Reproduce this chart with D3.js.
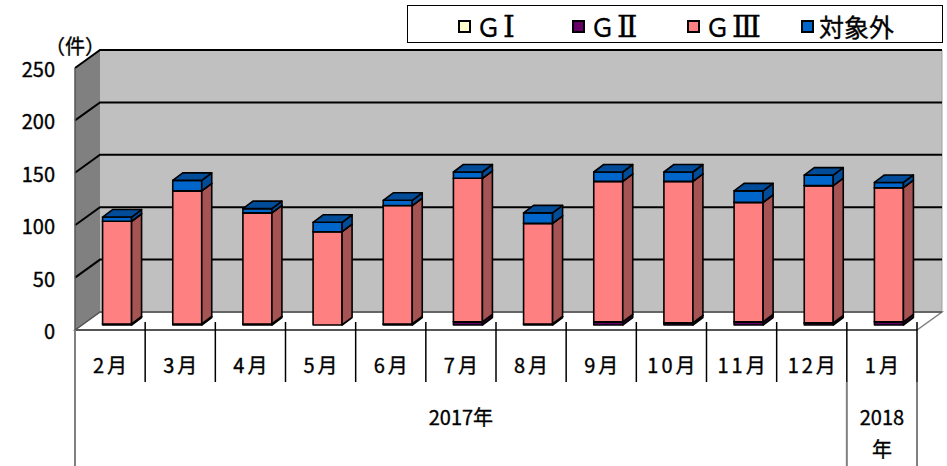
<!DOCTYPE html>
<html>
<head>
<meta charset="utf-8">
<script src="https://cdn.jsdelivr.net/npm/d3@7"></script>
<style>
  body { margin: 0; background: #fff; }
  text { font-family: 'Noto Sans CJK JP', 'Noto Sans', sans-serif; fill: #000; stroke: #000; stroke-width: 0.35px; }
</style>
</head>
<body>
<script>
// ---- Data ----
const months = ['2月', '3月', '4月', '5月', '6月', '7月', '8月', '9月', '10月', '11月', '12月', '1月'];
const yearLabels = [['2017年'], ['2018', '年']];
const yearSpans = [11, 1];
const seriesNames = ['ＧⅠ', 'ＧⅡ', 'ＧⅢ', '対象外'];
const gI = [0, 0, 0, 0, 0, 0, 0, 0, 0, 0, 0, 0];
const gII = [1, 1, 1, 0, 1, 3, 1, 3, 2, 3, 2, 3];
const gIII = [98, 127, 106, 89, 113, 137, 96, 134, 135, 114, 131, 128];
const other = [4, 10, 4, 9, 5, 6, 10, 9, 9, 11, 10, 5];
const yTicks = [0, 50, 100, 150, 200, 250];

// ---- Styles ----
const colors = {
  front: ['#ffffcc', '#660066', '#ff8080', '#0066cc'],
  side: ['#a6a685', '#420042', '#a65353', '#004c99']
};

const W = 947, H = 466;
const svg = d3.select('body').append('svg').attr('width', W).attr('height', H);

const x = d3.scaleBand().domain(months).range([75, 917]);
const y = d3.scaleLinear().domain([0, 250]).range([330, 68]);

const wall = { dx: 25, dy: -18 };
const barOff = { dx: 7, dy: -5 };
const depth = { dx: 10, dy: -7.5 };
const barW = 29;

const x0 = x.range()[0], x1 = x.range()[1];
const yTop = y(250), yBot = y(0);

// ---- Walls ----
svg.append('rect')
  .attr('x', x0 + wall.dx).attr('y', yTop + wall.dy)
  .attr('width', x1 - x0).attr('height', yBot - yTop)
  .attr('fill', '#c0c0c0');

svg.append('polygon')
  .attr('points', [[x0, yTop], [x0 + wall.dx, yTop + wall.dy], [x0 + wall.dx, yBot + wall.dy], [x0, yBot]].join(' '))
  .attr('fill', '#808080');

svg.append('polygon')
  .attr('points', [[x0, yBot], [x0 + wall.dx, yBot + wall.dy], [x1 + wall.dx, yBot + wall.dy], [x1, yBot]].join(' '))
  .attr('fill', '#fff')
  .attr('stroke', '#808080').attr('stroke-width', 1.5);

// right edge of back wall
svg.append('line')
  .attr('x1', x1 + wall.dx).attr('x2', x1 + wall.dx)
  .attr('y1', yTop + wall.dy).attr('y2', yBot + wall.dy)
  .attr('stroke', '#a0a0a0').attr('stroke-width', 1);

// ---- Grid ----
svg.append('g')
  .selectAll('path').data(yTicks.filter(d => d > 0)).join('path')
  .attr('d', d => `M${x0},${y(d)}L${x0 + wall.dx},${y(d) + wall.dy}L${x1 + wall.dx},${y(d) + wall.dy}`)
  .attr('fill', 'none').attr('stroke', '#000').attr('stroke-width', 2);

svg.append('path')
  .attr('d', `M${x0},${yBot}L${x0 + wall.dx},${yBot + wall.dy}L${x1 + wall.dx},${yBot + wall.dy}`)
  .attr('fill', 'none').attr('stroke', '#555').attr('stroke-width', 1.5);

// front edge of the side wall
svg.append('line')
  .attr('x1', x0).attr('x2', x0).attr('y1', yTop).attr('y2', yBot)
  .attr('stroke', '#555').attr('stroke-width', 1.5);

// ---- Y axis labels ----
svg.append('g')
  .selectAll('text').data(yTicks).join('text')
  .attr('x', 55).attr('y', d => y(d) + 9)
  .attr('text-anchor', 'end')
  .attr('font-size', 20)
  .text(d => d);

svg.append('text')
  .attr('x', 45).attr('y', 54)
  .attr('font-size', 20)
  .text('（件）');

// ---- Bars ----
const rows = months.map((m, i) => ({
  month: m,
  [seriesNames[0]]: gI[i],
  [seriesNames[1]]: gII[i],
  [seriesNames[2]]: gIII[i],
  [seriesNames[3]]: other[i]
}));
const stacked = d3.stack().keys(seriesNames)(rows);

const barsG = svg.append('g')
  .attr('stroke', '#000').attr('stroke-width', 1.6).attr('stroke-linejoin', 'round');

months.forEach((m, i) => {
  const bx = x(m) + x.bandwidth() / 2 - barW / 2 + barOff.dx;
  stacked.forEach((layer, k) => {
    const [v0, v1] = layer[i];
    if (v1 - v0 <= 0) return;
    const t = y(v1) + barOff.dy;
    const b = y(v0) + barOff.dy;
    const g = barsG.append('g');
    g.append('rect')
      .attr('x', bx).attr('y', t).attr('width', barW).attr('height', b - t)
      .attr('fill', colors.front[k]);
    g.append('polygon')
      .attr('points', [[bx + barW, b], [bx + barW + depth.dx, b + depth.dy],
        [bx + barW + depth.dx, t + depth.dy], [bx + barW, t]].join(' '))
      .attr('fill', colors.side[k]);
    g.append('polygon')
      .attr('points', [[bx, t], [bx + barW, t], [bx + barW + depth.dx, t + depth.dy],
        [bx + depth.dx, t + depth.dy]].join(' '))
      .attr('fill', colors.side[k]);
  });
});

// ---- X axis ----
svg.append('line')
  .attr('x1', x0).attr('x2', x1).attr('y1', yBot).attr('y2', yBot)
  .attr('stroke', '#555').attr('stroke-width', 2);

// month separators
svg.append('g')
  .selectAll('line').data(months.slice(1)).join('line')
  .attr('x1', d => x(d)).attr('x2', d => x(d))
  .attr('y1', yBot - 8).attr('y2', 382)
  .attr('stroke', '#000').attr('stroke-width', 1.5);

svg.append('line')
  .attr('x1', x1).attr('x2', x1).attr('y1', yBot - 8).attr('y2', 382)
  .attr('stroke', '#000').attr('stroke-width', 1.5);

// year separators
const yearEdges = [0];
yearSpans.forEach(s => yearEdges.push(yearEdges[yearEdges.length - 1] + s));
const edgeX = i => i < months.length ? x(months[i]) : x1;

svg.append('g')
  .selectAll('line').data(yearEdges).join('line')
  .attr('x1', edgeX).attr('x2', edgeX)
  .attr('y1', (d, i) => (i === 0 ? yBot : 382)).attr('y2', H)
  .attr('stroke', '#808080').attr('stroke-width', 2);

svg.append('g')
  .selectAll('text').data(months).join('text')
  .attr('x', d => x(d) + x.bandwidth() / 2 + 1.5)
  .attr('y', 373)
  .attr('text-anchor', 'middle')
  .attr('font-size', 20)
  .attr('letter-spacing', 3)
  .text(d => d);

yearLabels.forEach((lines, j) => {
  const cx = (edgeX(yearEdges[j]) + edgeX(yearEdges[j + 1])) / 2;
  lines.forEach((ln, li) => {
    svg.append('text')
      .attr('x', cx).attr('y', 425 + li * 32)
      .attr('text-anchor', 'middle')
      .attr('font-size', 20)
      .text(ln);
  });
});

// ---- Legend ----
const legendX = [459, 573, 688, 802];
svg.append('rect')
  .attr('x', 407.5).attr('y', 5.5).attr('width', 535).attr('height', 37)
  .attr('fill', '#fff').attr('stroke', '#000').attr('stroke-width', 1);

const items = svg.append('g')
  .selectAll('g').data(seriesNames).join('g')
  .attr('transform', (d, i) => `translate(${legendX[i]},0)`);

items.append('rect')
  .attr('x', 0).attr('y', 21).attr('width', 11).attr('height', 11)
  .attr('fill', (d, i) => colors.front[i])
  .attr('stroke', '#000').attr('stroke-width', 2);

items.append('text')
  .attr('x', 17).attr('y', 37)
  .attr('font-size', 25)
  .each(function (d) {
    const t = d3.select(this);
    if (d.startsWith('Ｇ')) {
      t.append('tspan').text(d[0]);
      t.append('tspan')
        .attr('font-family', "'DejaVu Serif', 'Liberation Serif', serif")
        .attr('font-size', 30)
        .attr('dx', 2)
        .text(d.slice(1));
    } else {
      t.text(d);
    }
  });
</script>
</body>
</html>
